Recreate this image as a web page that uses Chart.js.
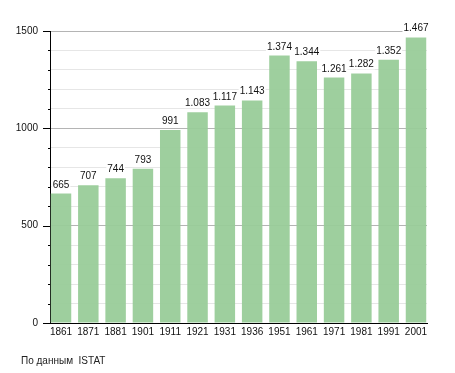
<!DOCTYPE html>
<html>
<head>
<meta charset="utf-8">
<script src="https://cdn.jsdelivr.net/npm/chart.js@4/dist/chart.umd.min.js"></script>
<style>
    html, body { margin: 0; padding: 0; background: #fff; }
    #wrap { position: relative; width: 455px; height: 373px; }
    #source { position: absolute; left: 21px; top: 355px; font: 10px "Liberation Sans", Arial, sans-serif; color: #222; white-space: pre; }
</style>
</head>
<body>
<div id="wrap">
    <canvas id="popChart" width="455" height="373"></canvas>
    <div id="source">По данным  ISTAT</div>
</div>
<script>
// Census years and population
const years = ['1861', '1871', '1881', '1901', '1911', '1921', '1931', '1936', '1951', '1961', '1971', '1981', '1991', '2001'];
const population = [665, 707, 744, 793, 991, 1083, 1117, 1143, 1374, 1344, 1261, 1282, 1352, 1467];
const yMajorTicks = [0, 500, 1000, 1500];

const FONT = '"Liberation Sans", Arial, sans-serif';

function formatNumber(v) {
    return String(v).replace(/\B(?=(\d{3})+(?!\d))/g, '.');
}

// Draws the y tick marks (long for labelled ticks, short for the minor ones)
const tickMarks = {
    id: 'tickMarks',
    afterDraw(chart) {
        const ctx = chart.ctx;
        const y = chart.scales.y;
        const left = chart.chartArea.left;
        ctx.save();
        ctx.strokeStyle = '#000';
        ctx.lineWidth = 1;
        y.ticks.forEach(t => {
            const py = Math.round(y.getPixelForValue(t.value)) + 0.5;
            const len = yMajorTicks.includes(t.value) ? 7 : 2;
            ctx.beginPath();
            ctx.moveTo(left - len, py);
            ctx.lineTo(left, py);
            ctx.stroke();
        });
        ctx.restore();
    }
};

// Value labels above each bar, with a white box behind them
const barLabels = {
    id: 'barLabels',
    afterDatasetsDraw(chart) {
        const ctx = chart.ctx;
        const meta = chart.getDatasetMeta(0);
        ctx.save();
        ctx.font = '10px ' + FONT;
        ctx.textAlign = 'center';
        ctx.textBaseline = 'alphabetic';
        meta.data.forEach((bar, i) => {
            const text = formatNumber(population[i]);
            const w = ctx.measureText(text).width;
            const by = bar.y - 6;
            ctx.fillStyle = '#fff';
            ctx.fillRect(bar.x - w / 2 - 1, by - 9, w + 2, 11);
            ctx.fillStyle = '#111';
            ctx.fillText(text, bar.x, by);
        });
        ctx.restore();
    }
};

new Chart(document.getElementById('popChart'), {
    type: 'bar',
    data: {
        datasets: [{
            data: population.map((v, i) => ({ x: i, y: v })),
            backgroundColor: 'rgba(153, 204, 153, 0.95)',
            borderWidth: 0,
            barPercentage: 0.75,
            categoryPercentage: 1
        }]
    },
    options: {
        responsive: false,
        animation: false,
        layout: { padding: { top: 31, right: 28, bottom: 0, left: 0 } },
        plugins: {
            legend: { display: false },
            tooltip: { enabled: false }
        },
        scales: {
            x: {
                type: 'linear',
                offset: false,
                min: -0.403,
                max: years.length - 1 + 0.403,
                grid: { display: false, drawTicks: false, offset: false },
                border: { color: '#000', width: 1 },
                ticks: {
                    stepSize: 1,
                    includeBounds: false,
                    autoSkip: false,
                    maxRotation: 0,
                    padding: 3,
                    color: '#111',
                    font: { family: FONT, size: 10 },
                    callback: v => Number.isInteger(v) ? years[v] : ''
                },
                afterFit: s => { s.height = 50; }
            },
            y: {
                min: 0,
                max: 1500,
                grid: {
                    drawTicks: false,
                    color: c => (c.tick && c.tick.value % 500 === 0) ? '#b4b4b4' : '#e6e6e6'
                },
                border: { color: '#000', width: 1 },
                ticks: {
                    stepSize: 100,
                    autoSkip: false,
                    padding: 12,
                    color: '#111',
                    font: { family: FONT, size: 10 },
                    callback: v => yMajorTicks.includes(v) ? String(v) : ''
                },
                afterFit: s => { s.width = 50; }
            }
        }
    },
    plugins: [tickMarks, barLabels]
});
</script>
</body>
</html>
